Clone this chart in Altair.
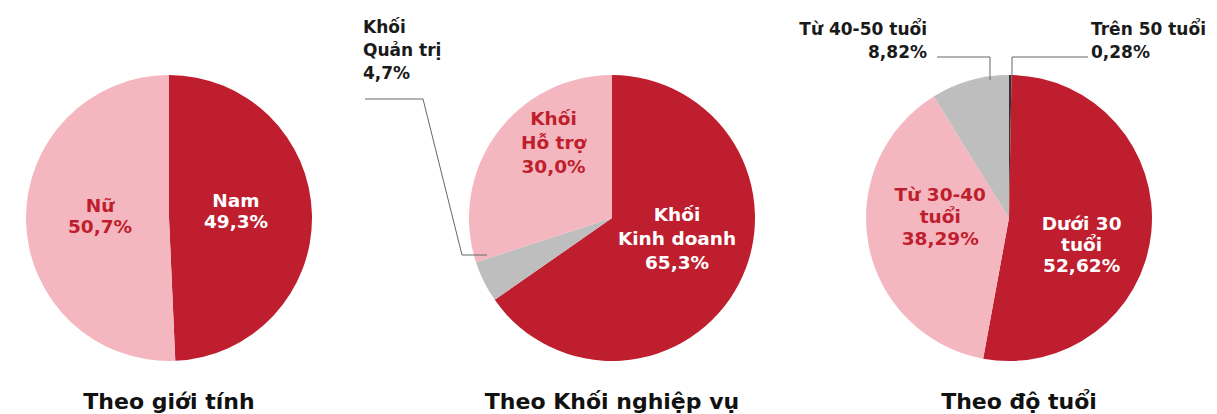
import json
import altair as alt
import pandas as pd

# ---------------- data ----------------
gender_cats = ["Nam", "Nữ"]
gender_vals = [49.3, 50.7]
gender_labels = ["Nam\n49,3%", "Nữ\n50,7%"]

dept_cats = ["Khối Kinh doanh", "Khối Quản trị", "Khối Hỗ trợ"]
dept_vals = [65.3, 4.7, 30.0]
dept_labels = ["Khối\nKinh doanh\n65,3%", "Khối\nQuản trị\n4,7%", "Khối\nHỗ trợ\n30,0%"]

age_cats = ["Trên 50 tuổi", "Dưới 30 tuổi", "Từ 30-40 tuổi", "Từ 40-50 tuổi"]
age_vals = [0.28, 52.62, 38.29, 8.82]
age_labels = ["Trên 50 tuổi\n0,28%", "Dưới 30\ntuổi\n52,62%", "Từ 30-40\ntuổi\n38,29%", "Từ 40-50 tuổi\n8,82%"]

titles = ["Theo giới tính", "Theo Khối nghiệp vụ", "Theo độ tuổi"]

# ---------------- style ----------------
RED = "#BF1E2E"
PINK = "#F5B7BF"
GRAY = "#BEBEBE"
DARK = "#333333"
TXT = "#1a1a1a"
FONT = "DejaVu Sans"
LFS = 18.5
OFS = 17
R = 143

gender_fill = [RED, PINK]
dept_fill = [RED, GRAY, PINK]
age_fill = [DARK, RED, PINK, GRAY]

centers = [(161, 210), (604, 210), (1001, 210)]


def frame(cats, vals, labels, fills):
    return pd.DataFrame({
        "cat": cats, "value": vals, "label": labels,
        "fill": fills, "idx": list(range(len(cats))),
    })


df_g = frame(gender_cats, gender_vals, gender_labels, gender_fill)
df_d = frame(dept_cats, dept_vals, dept_labels, dept_fill)
df_a = frame(age_cats, age_vals, age_labels, age_fill)


def pie(df, c):
    return alt.Chart(df).mark_arc(outerRadius=R).encode(
        theta=alt.Theta("value:Q", stack=True),
        order=alt.Order("idx:Q"),
        color=alt.Color("fill:N", scale=None),
        x=alt.value(c[0]), y=alt.value(c[1]),
    )


def inside(df, c, cat, r, dx, dy, color, lh=22):
    return alt.Chart(df).transform_calculate(
        t=f"datum.cat === {json.dumps(cat)} ? datum.label : ''"
    ).mark_text(
        radius=r, dx=dx, dy=dy, lineBreak="\n", font=FONT, fontSize=LFS,
        fontWeight="bold", color=color, align="center", baseline="middle",
        lineHeight=lh,
    ).encode(
        theta=alt.Theta("value:Q", stack=True),
        order=alt.Order("idx:Q"),
        text="t:N",
        x=alt.value(c[0]), y=alt.value(c[1]),
    )


layers = [
    pie(df_g, centers[0]),
    pie(df_d, centers[1]),
    pie(df_a, centers[2]),
    inside(df_g, centers[0], "Nam", 67, 0, -16, "white", 21),
    inside(df_g, centers[0], "Nữ", 69, 0, -14, RED, 21),
    inside(df_d, centers[1], "Khối Kinh doanh", 70, 3, -35, "white", 24),
    inside(df_d, centers[1], "Khối Hỗ trợ", 92, 16, -45, RED, 24),
    inside(df_a, centers[2], "Dưới 30 tuổi", 72, 1, -1, "white", 21),
    inside(df_a, centers[2], "Từ 30-40 tuổi", 71, 1, -36, RED, 22),
]

# outside labels (annotations, pixel positions)
out_left = pd.DataFrame({
    "label": [dept_labels[1], age_labels[0]],
    "px": [355, 1083], "py": [20, 22],
})
out_right = pd.DataFrame({
    "label": [age_labels[3]],
    "px": [919], "py": [22],
})


def out_text(df, align, lh):
    return alt.Chart(df).mark_text(
        align=align, baseline="middle", lineBreak="\n", font=FONT,
        fontSize=OFS, fontWeight="bold", color=TXT, lineHeight=lh,
    ).encode(
        x=alt.X("px:Q", scale=None), y=alt.Y("py:Q", scale=None), text="label:N"
    )


layers.append(out_text(out_left, "left", 23))
layers.append(out_text(out_right, "right", 23))

# leader lines
leaders = pd.DataFrame({
    "x1": [357, 415, 454, 929, 982, 1080, 1004],
    "y1": [91, 91, 247, 49, 49, 49, 49],
    "x2": [415, 454, 479, 982, 982, 1004, 1004],
    "y2": [91, 247, 247, 49, 72, 49, 68],
})
layers.append(
    alt.Chart(leaders).mark_rule(color="#666666", strokeWidth=1).encode(
        x=alt.X("x1:Q", scale=None), y=alt.Y("y1:Q", scale=None),
        x2="x2:Q", y2="y2:Q",
    )
)

# titles
title_df = pd.DataFrame({"t": titles, "px": [161, 604, 1011], "py": [401, 401, 401]})
layers.append(
    alt.Chart(title_df).mark_text(
        align="center", baseline="alphabetic", font=FONT, fontSize=22,
        fontWeight="bold", color="#111111",
    ).encode(x=alt.X("px:Q", scale=None), y=alt.Y("py:Q", scale=None), text="t:N")
)

chart = alt.layer(*layers).resolve_scale(theta="independent").properties(
    width=1201, height=406, padding=0,
    autosize=alt.AutoSizeParams(type="none"),
).configure_view(stroke=None)

chart.save("out.html", embed_options={"renderer": "svg", "actions": False})
